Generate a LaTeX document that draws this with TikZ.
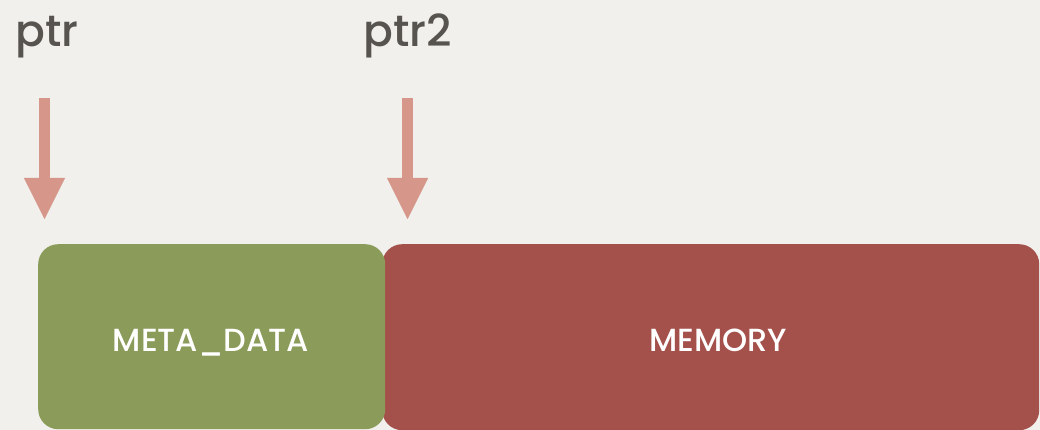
\documentclass[tikz,border=0pt]{standalone}
\usepackage{fontspec}
\setmainfont{Poppins}[UprightFont=* Medium]
\usetikzlibrary{arrows.meta}
\definecolor{paper}{HTML}{F1F0EC}
\definecolor{ink}{HTML}{57534F}
\definecolor{metagreen}{HTML}{8A9B5A}
\definecolor{memred}{HTML}{A4504B}
\definecolor{pointer}{HTML}{D6968A}
\tikzset{
  ptrlabel/.style={anchor=base west, inner sep=0pt, text=ink, font=\fontsize{44}{44}\selectfont},
  block/.style={rounded corners=20pt, inner sep=0pt, anchor=north west},
  blocklabel/.style={anchor=base, inner sep=0pt, text=white, font=\fontsize{32}{32}\selectfont},
  pointsto/.style={draw=pointer, line width=11pt,
    -{Triangle[width=41pt,length=41pt,line width=0.01pt]}}
}
\begin{document}
\begin{tikzpicture}[x=1pt,y=-1pt]
  % page
  \fill[paper] (0,0) rectangle (1040,430);
  \useasboundingbox (0,0) rectangle (1040,430);

  % memory layout: header block, then the payload block
  \node[block, fill=memred, minimum width=657pt, minimum height=186pt] (memory) at (382,244) {};
  \node[block, fill=metagreen, minimum width=347pt, minimum height=185pt] (meta) at (38,244) {};
  \node[blocklabel] (metatext) at (211,351) {META\_DATA};
  \node[blocklabel] (memtext) at (718,351) {MEMORY};

  % pointer names
  \node[ptrlabel] (ptr) at (15,47) {ptr};
  \node[ptrlabel] (ptrtwo) at (363,47) {ptr2};

  % pointer arrows
  \coordinate (ptrfrom) at (44.5,98);
  \coordinate (ptrto) at (44.5,219);
  \coordinate (ptrtwofrom) at (407.5,98);
  \coordinate (ptrtwoto) at (407.5,219);
  \draw[pointsto] (ptrfrom) -- (ptrto);
  \draw[pointsto] (ptrtwofrom) -- (ptrtwoto);
\end{tikzpicture}
\end{document}
